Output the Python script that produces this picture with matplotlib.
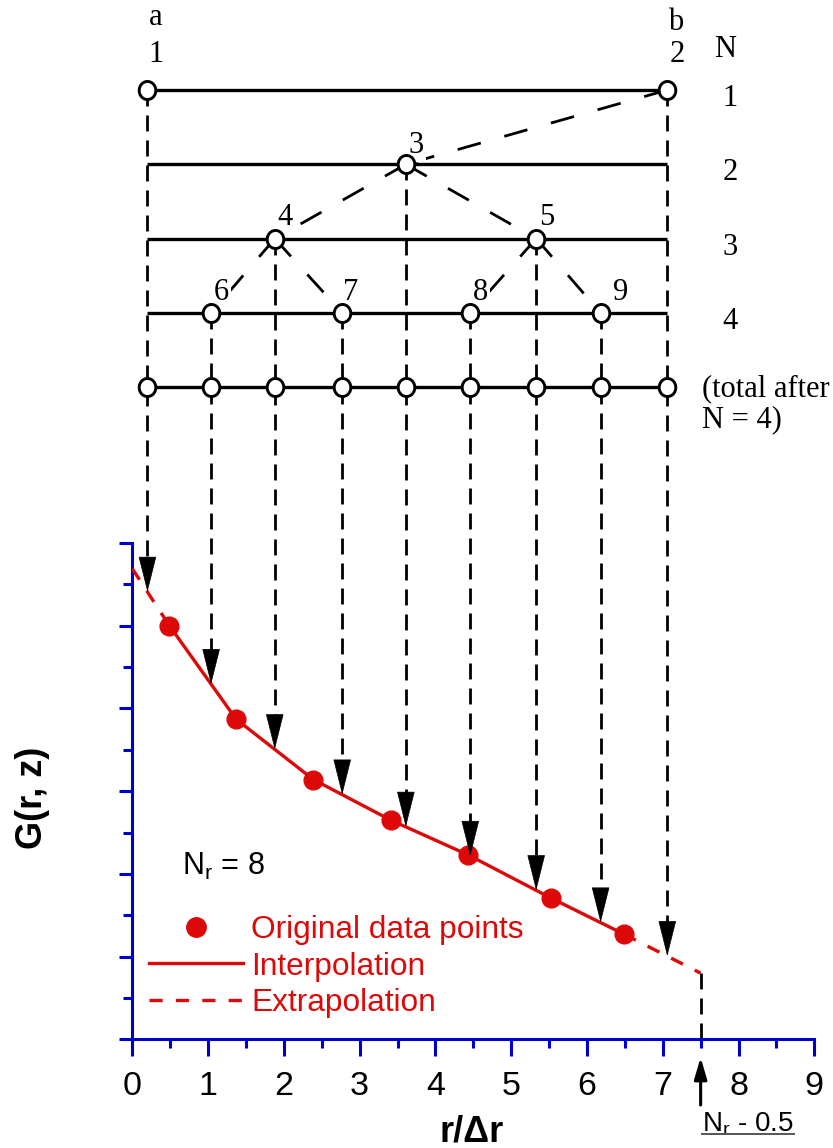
import matplotlib.pyplot as plt
import numpy as np
from matplotlib.path import Path
from matplotlib.patches import ArrowStyle
from matplotlib.lines import Line2D

plt.rcParams['lines.scale_dashes'] = False
plt.rcParams['font.family'] = ['Liberation Sans', 'DejaVu Sans']
plt.rcParams['mathtext.default'] = 'regular'
SERIF = ['Liberation Serif', 'DejaVu Serif']

# ---- bottom chart data ----
n_r = 8
r_data = [0.49, 1.37, 2.39, 3.41, 4.43, 5.52, 6.49]
g_data = [5.00, 3.87, 3.14, 2.65, 2.23, 1.71, 1.27]
g_at_zero = 5.69          # extrapolated to r = 0
g_at_edge = 0.80          # extrapolated to r = Nr - 0.5
r_edge = n_r - 0.5
x_ticks = list(range(10))

# ---- bisection diagram (node 1 = a, node 2 = b) ----
node_x = [0.20, 7.06, 3.61, 1.88, 5.33, 1.04, 2.77, 4.46, 6.18]
node_level = [1, 1, 2, 3, 3, 4, 4, 4, 4]
node_links = [(2, 3), (3, 4), (3, 5), (4, 6), (4, 7), (5, 8), (5, 9)]
levels = [1, 2, 3, 4]
total_level = 5

RED = '#dd0808'
BLUE = '#0000cc'

# layout in pixels
W, H = 833, 1148
left_px, right_px, bottom_px, top_px = 132.3, 814.3, 1039.3, 543.0
row1_px, row_step = 90.0, 74.3

fig = plt.figure(figsize=(W / 100, H / 100), dpi=100)
ax = fig.add_axes([left_px / W, 1 - bottom_px / H,
                   (right_px - left_px) / W, (bottom_px - top_px) / H])
axd = fig.add_axes([left_px / W, 1 - bottom_px / H,
                    (right_px - left_px) / W, bottom_px / H])
ax.set_zorder(1)
axd.set_zorder(2)

ax.set_xlim(0, 9)
ax.set_ylim(0, 6)
axd.set_xlim(0, 9)
axd.set_ylim(1 + (bottom_px - row1_px) / row_step, 1 - row1_px / row_step)
axd.axis('off')

# ---- curve ----
dash_red = (9.5, 9.5)
ax.plot(r_data, g_data, color=RED, lw=2.4, zorder=3)
ax.plot([0, r_data[0]], [g_at_zero, g_data[0]], color=RED, lw=2.4,
        dashes=dash_red, zorder=3)
ax.plot([r_data[-1], r_edge], [g_data[-1], g_at_edge], color=RED, lw=2.4,
        dashes=dash_red, zorder=3)
ax.plot(r_data, g_data, 'o', color=RED, ms=13.5, zorder=4)
ax.plot([r_edge, r_edge], [g_at_edge, 0], color='k', lw=2,
        dashes=(11.5, 6.5), clip_on=False, zorder=2)

# axes styling
for s in ['top', 'right']:
    ax.spines[s].set_visible(False)
for s in ['left', 'bottom']:
    ax.spines[s].set_color(BLUE)
    ax.spines[s].set_linewidth(2.2)
ax.set_xticks(x_ticks)
ax.set_xticks(np.arange(0.5, 9, 1), minor=True)
ax.set_yticks(range(7))
ax.set_yticks(np.arange(0.5, 6, 1), minor=True)
ax.set_yticklabels([])
ax.tick_params(axis='x', which='major', length=12.5, width=2.2, color=BLUE,
               labelsize=24.5, pad=10.5)
ax.tick_params(axis='x', which='minor', length=6.5, width=2.2, color=BLUE)
ax.tick_params(axis='y', which='major', length=9.1, width=2.2, color=BLUE)
ax.tick_params(axis='y', which='minor', length=6.7, width=2.2, color=BLUE)

ax.set_xlabel('r/Δr', fontsize=26, fontweight='bold')
ax.xaxis.set_label_coords(0.497, -0.1525)
ax.set_ylabel('G(r, z)', fontsize=26, fontweight='bold')
ax.yaxis.set_label_coords(-0.121, 0.486)

ax.text(0.656, 1.987, r'N$_{r}$ = 8', fontsize=22, va='baseline')

handles = [Line2D([], [], marker='o', ls='none', color=RED, ms=14),
           Line2D([], [], color=RED, lw=2.4),
           Line2D([], [], color=RED, lw=2.4, dashes=dash_red)]
ax.legend(handles, ['Original data points', 'Interpolation', 'Extrapolation'],
          loc='upper left', bbox_to_anchor=(0.0245, 0.250), frameon=False,
          borderpad=0, borderaxespad=0, handlelength=2.96, handletextpad=0.27,
          labelspacing=0.2, numpoints=1, fontsize=22.8, labelcolor=RED)

# Nr - 0.5 marker under the axis
ax.annotate('', xy=(r_edge, 0), xytext=(0, -47.3), textcoords='offset points',
            arrowprops=dict(arrowstyle=ArrowStyle('-|>', head_length=13, head_width=3.8),
                            mutation_scale=1, shrinkA=0, shrinkB=13, lw=2.2, color='k'),
            annotation_clip=False)
t_edge = ax.text(r_edge + 0.018, -1.117, r'N$_{r}$ - 0.5', fontsize=20,
                 va='baseline', ha='left', clip_on=False)
renderer = fig.canvas.get_renderer()
bb = t_edge.get_window_extent(renderer)
uy = 1 - 1134 / H
fig.add_artist(Line2D([bb.x0 / W, bb.x1 / W], [uy, uy], color='#555555', lw=1.4))

# ---- diagram ----
xa, xb = node_x[0], node_x[1]
axd.hlines(levels + [total_level], xa, xb, color='k', lw=2.4, zorder=3)

for p, c in node_links:
    axd.plot([node_x[p - 1], node_x[c - 1]], [node_level[p - 1], node_level[c - 1]],
             color='k', lw=2, dashes=(17.3, 17.6), zorder=2)

curve_r = [0] + r_data + [r_edge]
curve_g = [g_at_zero] + g_data + [g_at_edge]
tip_g = np.interp(node_x, curve_r, curve_g)
tip_disp = ax.transData.transform(np.column_stack([node_x, tip_g]))
head_px = 33.0
to_lvl = axd.transData.inverted()
tip_lvl = to_lvl.transform(tip_disp)[:, 1]
base_lvl = to_lvl.transform(tip_disp + [0, head_px])[:, 1]

for x, lv0, lb, lt in zip(node_x, node_level, base_lvl, tip_lvl):
    axd.plot([x, x], [lv0, lb], color='k', lw=2, dashes=(11.5, 6.5),
             clip_on=False, zorder=2)
    axd.annotate('', xy=(x, lt), xytext=(x, lb),
                 arrowprops=dict(arrowstyle=ArrowStyle('-|>', head_length=24, head_width=6.0),
                                 mutation_scale=1, shrinkA=0, shrinkB=0, lw=0.5, color='k'),
                 annotation_clip=False, zorder=6)

t = np.linspace(0, 2 * np.pi, 80)
ellipse = Path(np.column_stack([0.46 * np.cos(t), 0.5 * np.sin(t)]))
circ = dict(marker=ellipse, ms=13, mfc='white', mec='k', mew=2.1, ls='none', zorder=5)
axd.plot(node_x, node_level, **circ)
axd.plot(node_x, [total_level] * len(node_x), **circ)

# node numbers (offsets in pixels from node centre)
label_off = [(9, 28), (10, 28), (10, 11), (10, 13.5), (11, 13.5),
             (10, 13), (8, 13), (10, 13), (20, 13)]
FS_D = 22
for i, (dx, dy) in enumerate(label_off):
    axd.annotate(str(i + 1), (node_x[i], node_level[i]), xytext=(dx, dy),
                 textcoords='offset pixels', ha='center', va='baseline',
                 fontsize=FS_D, family=SERIF, zorder=4,
                 bbox=dict(fc='white', ec='none', pad=1.5))
axd.annotate('a', (xa, 1), xytext=(8, 65), textcoords='offset pixels',
             ha='center', va='baseline', fontsize=FS_D, family=SERIF)
axd.annotate('b', (xb, 1), xytext=(8, 60), textcoords='offset pixels',
             ha='center', va='baseline', fontsize=FS_D, family=SERIF)

x_lab = (730 - left_px) / 75.78
axd.annotate('N', (x_lab - 0.07, 1), xytext=(0, 33), textcoords='offset pixels',
             ha='center', va='baseline', fontsize=FS_D, family=SERIF)
for lv in levels:
    axd.annotate(str(lv), (x_lab, lv), xytext=(0, -16), textcoords='offset pixels',
                 ha='center', va='baseline', fontsize=FS_D, family=SERIF)
x_tot = (702 - left_px) / 75.78
axd.annotate('(total after\nN = 4)', (x_tot, total_level), xytext=(0, -40),
             textcoords='offset pixels', ha='left', va='baseline',
             fontsize=FS_D, family=SERIF, linespacing=1.08,
             annotation_clip=False)

fig.savefig('out.png', dpi=100)
